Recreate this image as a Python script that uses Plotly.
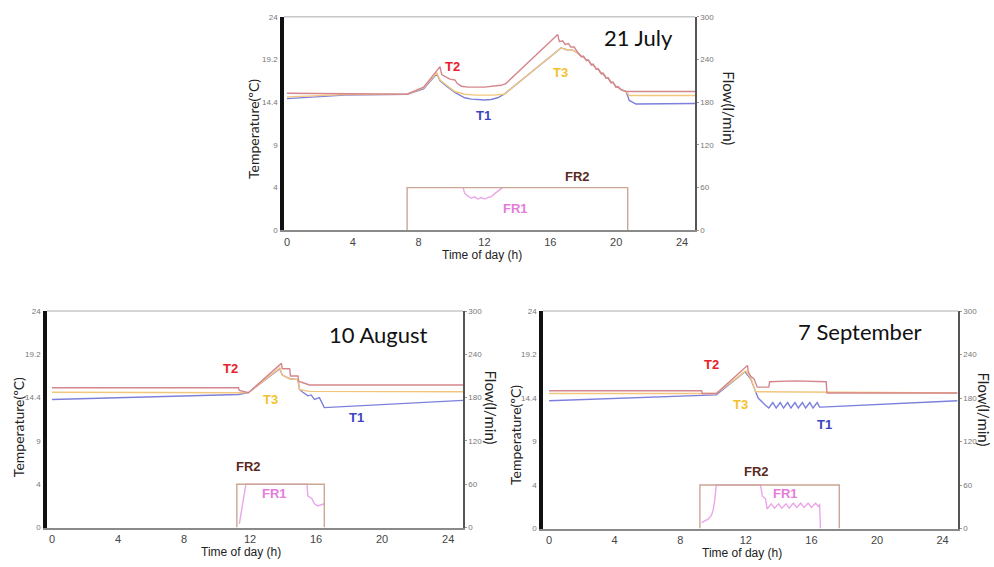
import plotly.graph_objects as go

# ================= DATA =================
hours_ticks = [0, 4, 8, 12, 16, 20, 24]
temp_tickvals = [0, 4.8, 9.6, 14.4, 19.2, 24]
temp_ticktext = ["0", "4", "9", "14.4", "19.2", "24"]
flow_tickvals = [0, 60, 120, 180, 240, 300]
flow_ticktext = ["0", "60", "120", "180", "240", "300"]
date_labels = ["21 July", "10 August", "7 September"]

# ---- 21 July ----
jul_desc_x = [17.7, 17.9, 18.0, 18.2, 18.3, 18.5, 18.6, 18.8, 18.9, 19.1, 19.2,
              19.4, 19.5, 19.7, 19.8, 20.0, 20.1, 20.3, 20.6]
jul_desc_y = [19.9, 19.5, 19.55, 19.1, 19.15, 18.6, 18.65, 18.1, 18.15, 17.6, 17.65,
              17.1, 17.15, 16.6, 16.65, 16.1, 16.15, 15.8, 15.6]
jul_t2_x = [0, 7.3, 8.3, 9.3, 9.4, 9.7, 9.9, 10.2, 10.35, 10.6, 11.0, 12.0, 13.0, 13.3,
            16.45, 16.55, 16.75, 16.9, 17.1, 17.25, 17.45] + jul_desc_x + [24.8]
jul_t2_y = [15.4, 15.3, 16.1, 18.4, 17.5, 17.2, 17.0, 16.9, 16.5, 16.2, 16.1, 16.1, 16.3, 16.5,
            22.0, 21.2, 21.3, 20.9, 21.0, 20.6, 20.6] + jul_desc_y + [15.6]
jul_t3_x = [0, 3.5, 7.3, 8.3, 9.1, 9.3, 9.7, 10.2, 10.8, 11.5, 12.5, 13.2,
            16.65, 17.0, 17.3, 17.5] + jul_desc_x + [20.8, 24.8]
jul_t3_y = [15.0, 15.25, 15.3, 16.0, 17.7, 16.9, 16.3, 15.6, 15.3, 15.2, 15.2, 15.3,
            20.5, 20.3, 20.3, 20.1] + jul_desc_y + [15.15, 15.15]
jul_t1_x = [0, 3.5, 7.3, 8.3, 9.1, 9.3, 9.7, 10.2, 10.8, 11.2, 11.6, 12.0, 12.4, 12.8, 13.2,
            16.65, 17.0, 17.3, 17.5] + jul_desc_x + [20.8, 21.2, 24.8]
jul_t1_y = [14.8, 15.2, 15.3, 15.9, 17.6, 16.8, 16.2, 15.5, 14.9, 14.75, 14.7, 14.65, 14.7, 14.9, 15.3,
            20.5, 20.3, 20.3, 20.1] + jul_desc_y + [14.6, 14.2, 14.25]
jul_fr2_x = [7.3, 7.3, 20.7, 20.7]
jul_fr2_y = [0, 60, 60, 0]
jul_fr1_x = [10.7, 10.8, 11.0, 11.2, 11.4, 11.6, 11.8, 12.0, 12.2, 12.4, 12.7, 13.1]
jul_fr1_y = [60, 52, 48, 45, 47, 44, 46, 44, 46, 47, 53, 60]

# ---- 10 August ----
aug_t2_x = [0, 11.3, 11.35, 11.9, 13.9, 13.95, 14.4, 14.45, 14.9, 14.95, 15.3, 15.6, 24.9]
aug_t2_y = [15.5, 15.5, 15.2, 14.95, 18.2, 17.6, 17.6, 16.8, 16.8, 16.2, 16.0, 15.8, 15.8]
aug_t3_x = [0, 11.3, 11.9, 13.8, 13.95, 14.4, 14.9, 15.0, 15.6, 24.9]
aug_t3_y = [15.0, 15.0, 14.95, 17.7, 16.9, 16.5, 16.4, 15.3, 15.1, 15.05]
aug_t1_x = [0, 11.3, 11.9, 13.8, 13.95, 14.4, 14.9, 15.0, 15.2, 15.5, 15.7, 15.9, 16.2, 16.5, 24.9]
aug_t1_y = [14.2, 14.75, 14.95, 17.6, 16.9, 16.5, 16.4, 15.3, 15.0, 14.6, 14.7, 14.2, 14.4, 13.3, 14.1]
aug_fr2_x = [11.2, 11.2, 16.5, 16.5]
aug_fr2_y = [0, 60, 60, 0]
aug_fr1_x = [11.35, 11.45, 11.55, 11.65, 11.75, 15.45, 15.5, 15.75, 15.9, 16.1, 16.3, 16.5]
aug_fr1_y = [5, 20, 36, 50, 60, 60, 44, 40, 33, 30, 31, 33]

# ---- 7 September ----
sep_t2_x = [0, 9.3, 9.35, 10.2, 12.1, 12.15, 12.3, 12.5, 12.7, 13.4, 13.45, 15.0, 16.9, 16.95, 24.9]
sep_t2_y = [15.2, 15.2, 14.9, 14.9, 18.0, 17.3, 16.8, 16.5, 15.6, 15.6, 16.2, 16.3, 16.2, 14.95, 14.95]
sep_t3_x = [0, 10.2, 12.0, 12.3, 12.6, 24.9]
sep_t3_y = [14.9, 14.9, 17.4, 16.6, 15.1, 14.95]
sep_t1_x = [0, 10.2, 11.95, 12.3, 12.6, 12.75, 13.2, 13.4, 13.65, 13.85, 14.1, 14.3, 14.55, 14.75,
            15.0, 15.2, 15.45, 15.65, 15.9, 16.1, 16.35, 16.5, 16.6, 24.9]
sep_t1_y = [14.1, 14.75, 17.3, 16.5, 15.1, 14.4, 13.6, 13.3, 13.9, 13.3, 13.9, 13.3, 13.9, 13.3,
            13.9, 13.3, 13.9, 13.3, 13.9, 13.3, 13.9, 13.4, 13.4, 14.1]
sep_fr2_x = [9.2, 9.2, 17.7, 17.7]
sep_fr2_y = [0, 60, 60, 0]
sep_fr1_x = [9.3, 9.5, 9.7, 9.9, 10.0, 10.1, 10.2, 12.9, 13.0, 13.2, 13.3, 13.55, 13.75, 14.0, 14.2,
             14.45, 14.65, 14.9, 15.1, 15.35, 15.55, 15.8, 16.0, 16.25, 16.45, 16.5, 16.55]
sep_fr1_y = [8, 10, 13, 18, 25, 38, 60, 60, 45, 41, 27, 34, 28, 34, 28,
             34, 28, 35, 29, 35, 29, 35, 29, 35, 30, 34, 0]

# ================= STYLE =================
LINE = dict(T1="#7c80dc", T2="#d4868c", T3="#f3c67e", FR1="#eaa6e8", FR2="#caa792")
LBL = dict(T1="#3a44c6", T2="#e8202a", T3="#f2c22e", FR1="#e67cda", FR2="#5a2a22")

W, H = 994, 567
def px(x):
    return x / W
def py(y):
    return 1 - y / H

panels = [
    dict(t1=(jul_t1_x, jul_t1_y), t2=(jul_t2_x, jul_t2_y), t3=(jul_t3_x, jul_t3_y),
         fr1=(jul_fr1_x, jul_fr1_y), fr2=(jul_fr2_x, jul_fr2_y),
         xdom=[px(284), px(695)], ydom=[py(230), py(13)], xr=[-0.18, 24.79],
         date=(638, 34), temp_title=(254, 127), flow_title=(729, 106), time_title=(482, 255),
         lab=dict(T2=(452, 63), T1=(483, 113), T3=(560, 70), FR2=(577, 175), FR1=(515, 208))),
    dict(t1=(aug_t1_x, aug_t1_y), t2=(aug_t2_x, aug_t2_y), t3=(aug_t3_x, aug_t3_y),
         fr1=(aug_fr1_x, aug_fr1_y), fr2=(aug_fr2_x, aug_fr2_y),
         xdom=[px(47), px(463)], ydom=[py(532), py(312)], xr=[-0.3, 24.9],
         date=(378, 336), temp_title=(18, 430), flow_title=(491, 410), time_title=(241, 557),
         lab=dict(T2=(230, 370), T3=(270, 402), T1=(356, 420), FR2=(248, 470), FR1=(274, 497))),
    dict(t1=(sep_t1_x, sep_t1_y), t2=(sep_t2_x, sep_t2_y), t3=(sep_t3_x, sep_t3_y),
         fr1=(sep_fr1_x, sep_fr1_y), fr2=(sep_fr2_x, sep_fr2_y),
         xdom=[px(543), px(958)], ydom=[py(533), py(312)], xr=[-0.37, 24.94],
         date=(860, 333), temp_title=(515, 438), flow_title=(984, 412), time_title=(742, 558),
         lab=dict(T2=(711, 366), T3=(740, 407), T1=(824, 427), FR2=(756, 475), FR1=(785, 497))),
]

fig = go.Figure()
layout = dict(
    width=W, height=H, margin=dict(l=0, r=0, t=0, b=0),
    paper_bgcolor="white", plot_bgcolor="white", showlegend=False,
    annotations=[], shapes=[],
)

def note(text, xy, size, color, family, angle=0):
    return dict(text=text, x=px(xy[0]), y=py(xy[1]), xref="paper", yref="paper",
                xanchor="center", yanchor="middle", showarrow=False, textangle=angle,
                font=dict(family=family, size=size, color=color))

for i, p in enumerate(panels):
    xn = "x" if i == 0 else f"x{i+1}"
    yt = "y" if i == 0 else f"y{2*i+1}"
    yf = f"y{2*i+2}"
    xk = "xaxis" if i == 0 else f"xaxis{i+1}"
    ytk = "yaxis" if i == 0 else f"yaxis{2*i+1}"
    yfk = f"yaxis{2*i+2}"

    for key in ["T1", "T3", "T2"]:
        xs, ys = p[key.lower()]
        fig.add_trace(go.Scatter(x=xs, y=ys, mode="lines", xaxis=xn, yaxis=yt,
                                 line=dict(color=LINE[key], width=1.4), hoverinfo="skip"))
    for key in ["FR1", "FR2"]:
        xs, ys = p[key.lower()]
        fig.add_trace(go.Scatter(x=xs, y=ys, mode="lines", xaxis=xn, yaxis=yf,
                                 line=dict(color=LINE[key], width=1.4), hoverinfo="skip"))

    layout[xk] = dict(domain=p["xdom"], range=p["xr"], anchor=yt, tickmode="array",
                      tickvals=hours_ticks, showgrid=False, zeroline=False,
                      showline=True, linecolor="#8a8a8a", linewidth=2, ticks="",
                      tickfont=dict(family="Liberation Sans, Arial", size=11, color="#444"))
    layout[ytk] = dict(domain=p["ydom"], range=[0, 24], anchor=xn, tickmode="array",
                       tickvals=temp_tickvals, ticktext=temp_ticktext, showgrid=False,
                       zeroline=False, showline=True, linecolor="#111", linewidth=3.5,
                       ticks="", ticklabelstandoff=1,
                       tickfont=dict(family="Liberation Sans, Arial", size=8, color="#777"))
    layout[yfk] = dict(range=[0, 300], anchor=xn, overlaying=yt, side="right",
                       tickmode="array", tickvals=flow_tickvals, ticktext=flow_ticktext,
                       showgrid=False, zeroline=False, showline=True, linecolor="#555",
                       linewidth=1.5, ticks="outside", ticklen=2, tickcolor="#999",
                       tickfont=dict(family="Liberation Sans, Arial", size=8, color="#777"))

    # top border of the plot frame
    layout["shapes"].append(dict(type="line", xref=f"{xn} domain", yref=f"{yt} domain",
                                 x0=0, x1=1, y0=1, y1=1, line=dict(color="#c8c8c8", width=1.5)))

    ann = layout["annotations"]
    ann.append(note(date_labels[i], p["date"], 22, "#111", "Lato"))
    ann.append(note("Temperature(ºC)", p["temp_title"], 14, "#222", "Lato", -90))
    ann.append(note("Flow(l/min)", p["flow_title"], 15, "#222", "Lato", 90))
    ann.append(note("Time of day (h)", p["time_title"], 12, "#222", "Liberation Sans, Arial"))
    for key, xy in p["lab"].items():
        ann.append(note(f"<b>{key}</b>", xy, 13, LBL[key], "Liberation Sans, Arial"))

fig.update_layout(**layout)
fig.write_html("out.html")
